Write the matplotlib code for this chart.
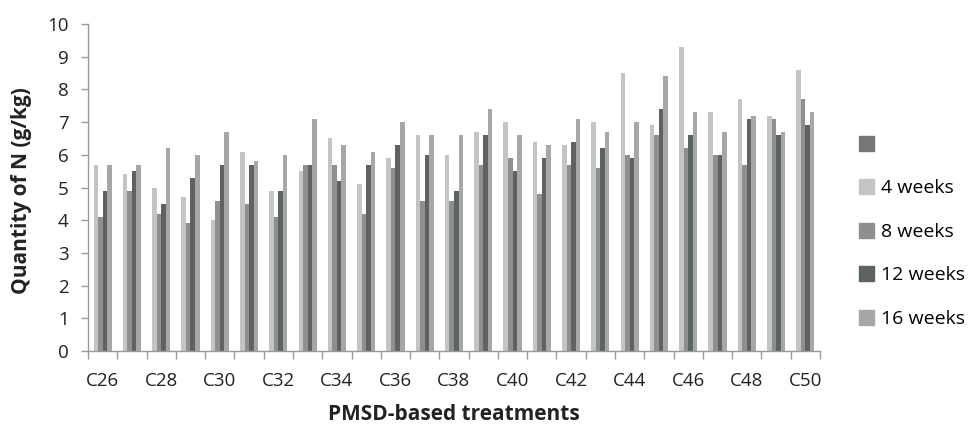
import matplotlib
matplotlib.use("Agg")
import matplotlib.pyplot as plt
import numpy as np
from matplotlib.patches import Patch

categories = [f"C{i}" for i in range(26, 51)]
w4 = [5.7, 5.4, 5.0, 4.7, 4.0, 6.1, 4.9, 5.5, 6.5, 5.1, 5.9, 6.6, 6.0, 6.7, 7.0,
      6.4, 6.3, 7.0, 8.5, 6.9, 9.3, 7.3, 7.7, 7.2, 8.6]
w8 = [4.1, 4.9, 4.2, 3.9, 4.6, 4.5, 4.1, 5.7, 5.7, 4.2, 5.6, 4.6, 4.6, 5.7, 5.9,
      4.8, 5.7, 5.6, 6.0, 6.6, 6.2, 6.0, 5.7, 7.1, 7.7]
w12 = [4.9, 5.5, 4.5, 5.3, 5.7, 5.7, 4.9, 5.7, 5.2, 5.7, 6.3, 6.0, 4.9, 6.6, 5.5,
       5.9, 6.4, 6.2, 5.9, 7.4, 6.6, 6.0, 7.1, 6.6, 6.9]
w16 = [5.7, 5.7, 6.2, 6.0, 6.7, 5.8, 6.0, 7.1, 6.3, 6.1, 7.0, 6.6, 6.6, 7.4, 6.6,
       6.3, 7.1, 6.7, 7.0, 8.4, 7.3, 6.7, 7.2, 6.7, 7.3]
series_labels = ["4 weeks", "8 weeks", "12 weeks", "16 weeks"]
colors = ["#c4c4c4", "#8f8f8f", "#5c6461", "#a7a7a7"]
blank_color = "#777777"

plt.rcParams['font.family'] = ['Open Sans', 'DejaVu Sans']

fig = plt.figure(figsize=(9.75, 4.29), dpi=100)
ax = fig.add_axes([88/975, 1-351/429, (820-88)/975, (351-24)/429])

x = np.arange(len(categories))
bw = 0.155
data = [w4, w8, w12, w16]
for i, (vals, c) in enumerate(zip(data, colors)):
    ax.bar(x + (i - 1.5) * bw, vals, width=bw, color=c, linewidth=0)

ax.set_xlim(-0.5, len(categories) - 0.5)
ax.set_ylim(0, 10)
ax.set_yticks(range(0, 11))
ax.set_xticks(x[::2])
ax.set_xticklabels(categories[::2])
ax.set_xticks(np.arange(-0.5, len(categories), 1), minor=True)
ax.tick_params(axis='x', which='major', length=0, pad=15, labelsize=13.5, colors='#222222')
ax.tick_params(axis='x', which='minor', length=6, color='#999999', width=1, direction='out')
ax.tick_params(axis='y', length=5, color='#999999', width=1, direction='out', labelsize=13.5,
               pad=9, labelcolor='#222222')
for s in ['top', 'right']:
    ax.spines[s].set_visible(False)
for s in ['left', 'bottom']:
    ax.spines[s].set_color('#999999')
    ax.spines[s].set_linewidth(1)

ax.set_ylabel("Quantity of N (g/kg)", fontsize=15, fontweight='bold', color='#222222')
ax.yaxis.set_label_coords(-0.076, 0.49)
ax.set_xlabel("PMSD-based treatments", fontsize=15, fontweight='bold', labelpad=10, color='#222222')

handles = [Patch(color=blank_color, label=" ")] + [Patch(color=c, label=l) for c, l in zip(colors, series_labels)]
fig.legend(handles=handles, loc='upper left', bbox_to_anchor=(851/975, 1-128/429),
           frameon=False, fontsize=14, handlelength=0.8, handleheight=0.8,
           handletextpad=0.35, labelspacing=1.3, borderaxespad=0)

fig.savefig("out.png", dpi=100)
